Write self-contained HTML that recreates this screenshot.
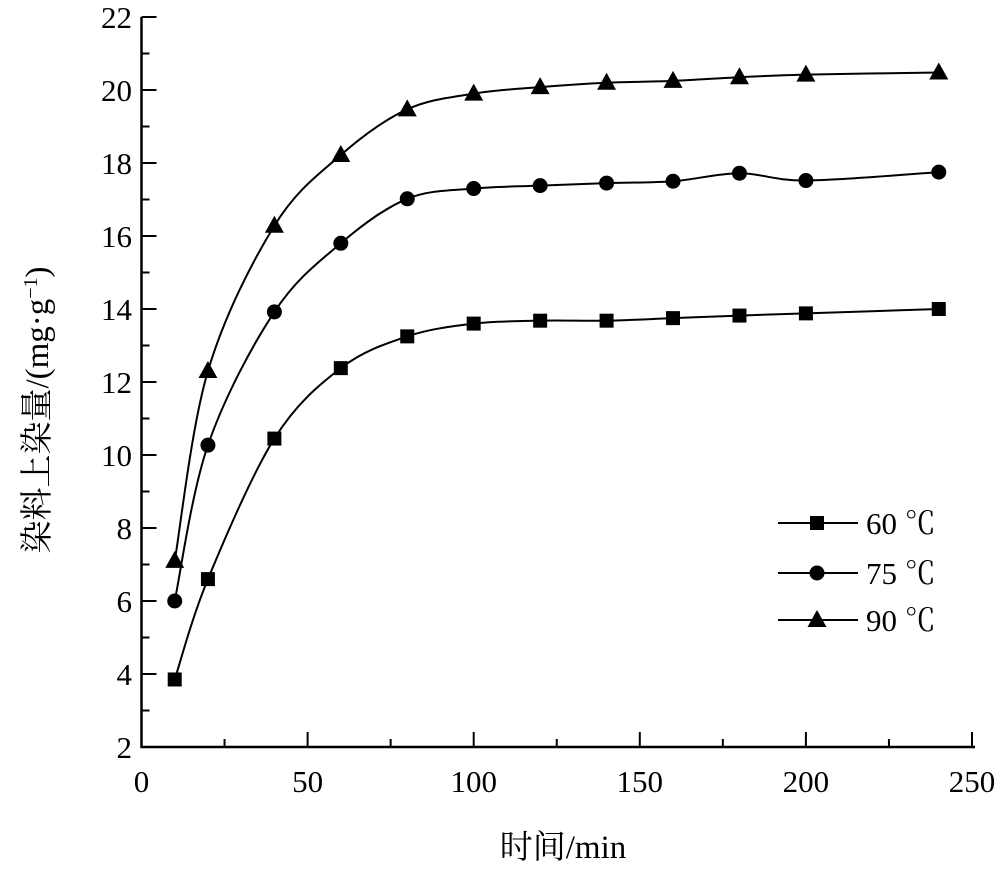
<!DOCTYPE html>
<html><head><meta charset="utf-8"><style>
body{margin:0;background:#fff}
svg text{font-family:"Liberation Serif","Noto Serif CJK SC",serif;fill:#000}
</style></head><body>
<svg id="s" width="1000" height="869" xmlns="http://www.w3.org/2000/svg"></svg>
<script>
const s=document.getElementById('s');
const X=v=>141.5+v*3.322, Y=v=>747-(v-2)*36.5;
let h='';
h+=`<path d="M141.5,17V747H975" fill="none" stroke="#000" stroke-width="2.5"/>`;
for(let v=2;v<=22;v+=1){const y=Y(v);const maj=v%2==0;h+=`<line x1="141.5" x2="${141.5+(maj?15:8)}" y1="${y}" y2="${y}" stroke="#000" stroke-width="2"/>`;
if(maj)h+=`<text x="132" y="${y+11}" font-size="31" text-anchor="end">${v}</text>`;}
for(let v=0;v<=250;v+=25){const x=X(v);const maj=v%50==0;h+=`<line x1="${x}" x2="${x}" y1="747" y2="${747-(maj?15:8)}" stroke="#000" stroke-width="2"/>`;
if(maj)h+=`<text x="${x}" y="792" font-size="31" text-anchor="middle">${v}</text>`;}
h+=`<text x="563" y="858" font-size="33" text-anchor="middle">时间/min</text>`;
h+=`<text transform="translate(48,410) rotate(-90)" font-size="33" text-anchor="middle">染料上染量/(mg·g<tspan dy="-11" font-size="20">−1</tspan><tspan dy="11">)</tspan></text>`;
const t=[10,20,40,60,80,100,120,140,160,180,200,240];
const D=[[3.85,6.6,10.45,12.38,13.25,13.6,13.68,13.68,13.75,13.82,13.88,14.0],
[6.0,10.27,13.92,15.8,17.02,17.3,17.38,17.45,17.5,17.72,17.52,17.75],
[7.1,12.3,16.28,18.22,19.47,19.9,20.08,20.2,20.25,20.35,20.42,20.48]];
function mk(k,x,y){if(k==0)return `<rect x="${x-7}" y="${y-7}" width="14" height="14"/>`;
if(k==1)return `<circle cx="${x}" cy="${y}" r="7.5"/>`;
return `<polygon points="${x},${y-10} ${x-9.5},${y+7} ${x+9.5},${y+7}"/>`;}
D.forEach((d,k)=>{const p=t.map((v,i)=>[X(v),Y(d[i])]);let q=`M${p[0]}`;
for(let i=0;i<p.length-1;i++){const a=p[Math.max(0,i-1)],b=p[i],c=p[i+1],e=p[Math.min(p.length-1,i+2)];
q+=`C${b[0]+(c[0]-a[0])/6},${b[1]+(c[1]-a[1])/6} ${c[0]-(e[0]-b[0])/6},${c[1]-(e[1]-b[1])/6} ${c[0]},${c[1]}`;}
h+=`<path d="${q}" fill="none" stroke="#000" stroke-width="2"/>`;
p.forEach(pt=>h+=mk(k,pt[0],pt[1]));
const ly=[523,573,620][k];
h+=`<line x1="778" x2="858" y1="${ly}" y2="${ly}" stroke="#000" stroke-width="2"/>`+mk(k,817,ly);
h+=`<text x="866" y="${ly+11}" font-size="31">${['60','75','90'][k]} ℃</text>`;});
s.innerHTML=h;
</script>
</body></html>
